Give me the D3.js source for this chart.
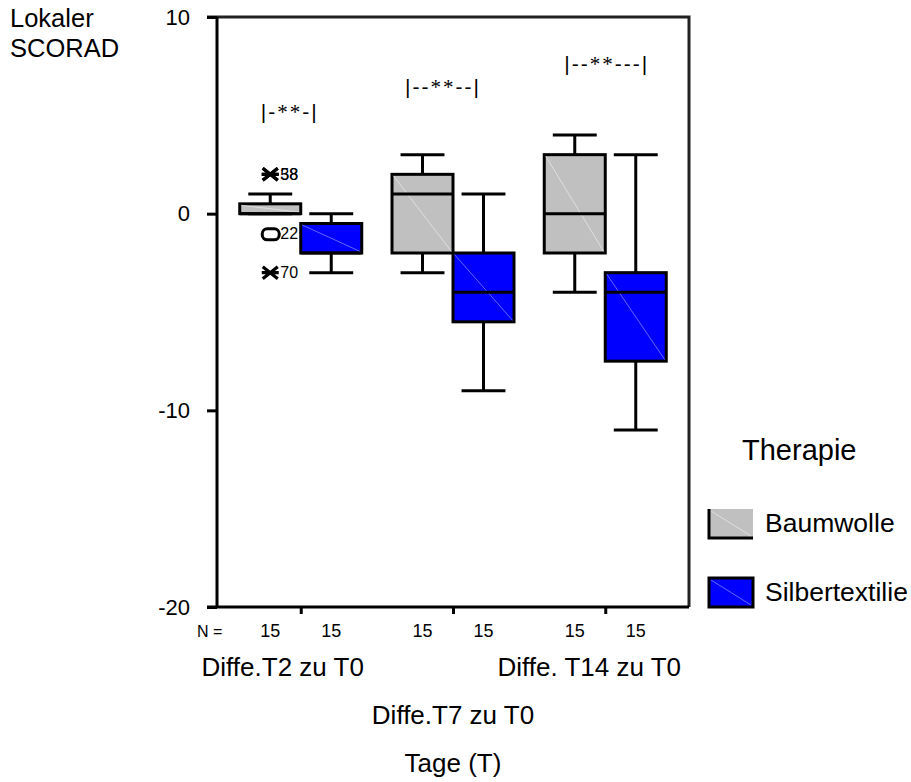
<!DOCTYPE html>
<html>
<head>
    <meta charset="utf-8">
    <script src="https://d3js.org/d3.v7.min.js"></script>
    <style>
        body { margin: 0; background: #fff; }
        svg text { font-family: "Liberation Sans", Arial, sans-serif; fill: #000; }
    </style>
</head>
<body>
    <svg id="chart" width="911" height="782"></svg>

    <script>
        // Data
        const groups = ["Diffe.T2 zu T0", "Diffe.T7 zu T0", "Diffe. T14 zu T0"];
        const therapies = ["Baumwolle", "Silbertextilie"];
        const therapyColors = ["#c0c0c0", "#0000ff"];

        // box stats per group: [min, q1, median, q3, max]
        const baumwolleStats = [[0, 0, 0, 0.5, 1], [-3, -2, 1, 2, 3], [-4, -2, 0, 3, 4]];
        const silberStats = [[-3, -2, -2, -0.5, 0], [-9, -5.5, -4, -2, 1], [-11, -7.5, -4, -3, 3]];
        const nBaumwolle = [15, 15, 15];
        const nSilber = [15, 15, 15];

        // outliers: group index, therapy index, value, case label, kind
        const outliers = [
            [0, 0, 2, "38", "extreme"],
            [0, 0, 2, "58", "extreme"],
            [0, 0, -1, "22", "outlier"],
            [0, 0, -3, "70", "extreme"]
        ];

        const sigLabels = ["|-**-|", "|--**--|", "|--**---|"];
        const sigLevels = [4.6, 5.9, 7.05];
        const yTicks = [10, 0, -10, -20];

        // layout
        const svg = d3.select("#chart");
        const plotLeft = 217, plotRight = 689, plotTop = 17, plotBottom = 607;
        const boxW = 61;
        const sigOffsets = [-40, -48, -41];
        const groupLabelShift = [-18, 0, -16];
        const groupLabelY = [676, 724, 676];

        const y = d3.scaleLinear().domain([-20, 10]).range([plotBottom, plotTop]);
        const x = d3.scalePoint().domain(groups).range([plotLeft, plotRight]).padding(0.55);
        const sub = d3.scaleBand().domain(therapies).range([-boxW, boxW]);

        // frame top and right
        svg.append("path")
            .attr("d", `M${plotLeft - 10},${plotTop} H${plotRight} V${plotBottom}`)
            .attr("fill", "none")
            .attr("stroke", "#222")
            .attr("stroke-width", 3);

        // y axis
        const yAxis = svg.append("g")
            .attr("transform", `translate(${plotLeft},0)`)
            .call(d3.axisLeft(y).tickValues(yTicks).tickSize(10).tickPadding(17).tickFormat(d => String(d)));
        yAxis.select(".domain").attr("stroke", "#000").attr("stroke-width", 3).attr("d", `M0,${plotTop}V${plotBottom}`);
        yAxis.selectAll(".tick line").attr("stroke", "#000").attr("stroke-width", 3);
        yAxis.selectAll(".tick text").style("font-size", "22px").attr("font-family", null);

        // x axis
        const xAxis = svg.append("g")
            .attr("transform", `translate(0,${plotBottom})`)
            .call(d3.axisBottom(x).tickSize(7).tickFormat(""));
        xAxis.select(".domain").attr("stroke", "#000").attr("stroke-width", 3).attr("d", `M${plotLeft - 10},0H${plotRight}`);
        xAxis.selectAll(".tick line").attr("stroke", "#000").attr("stroke-width", 3);

        // boxes
        const statsByTherapy = [baumwolleStats, silberStats];
        const boxes = [];
        groups.forEach((g, gi) => {
            therapies.forEach((t, ti) => {
                const s = statsByTherapy[ti][gi];
                boxes.push({ g, t, ti, min: s[0], q1: s[1], med: s[2], q3: s[3], max: s[4] });
            });
        });

        const boxG = svg.append("g").selectAll("g")
            .data(boxes)
            .join("g")
            .attr("transform", d => `translate(${x(d.g) + sub(d.t)},0)`);

        const bw = sub.bandwidth();
        const capW = bw * 0.72;

        // whiskers
        boxG.append("line")
            .attr("x1", bw / 2).attr("x2", bw / 2)
            .attr("y1", d => y(d.max)).attr("y2", d => y(d.q3))
            .attr("stroke", "#000").attr("stroke-width", 3);
        boxG.append("line")
            .attr("x1", bw / 2).attr("x2", bw / 2)
            .attr("y1", d => y(d.q1)).attr("y2", d => y(d.min))
            .attr("stroke", "#000").attr("stroke-width", 3);
        boxG.append("line")
            .attr("x1", bw / 2 - capW / 2).attr("x2", bw / 2 + capW / 2)
            .attr("y1", d => y(d.max)).attr("y2", d => y(d.max))
            .attr("stroke", "#000").attr("stroke-width", 3);
        boxG.append("line")
            .attr("x1", bw / 2 - capW / 2).attr("x2", bw / 2 + capW / 2)
            .attr("y1", d => y(d.min)).attr("y2", d => y(d.min))
            .attr("stroke", "#000").attr("stroke-width", 3);

        boxG.append("rect")
            .attr("x", 0).attr("width", bw)
            .attr("y", d => y(d.q3))
            .attr("height", d => y(d.q1) - y(d.q3))
            .attr("fill", d => therapyColors[d.ti])
            .attr("stroke", "#000").attr("stroke-width", 3);
        // faint diagonal of the fill pattern
        boxG.append("line")
            .attr("x1", 1.5).attr("x2", bw - 1.5)
            .attr("y1", d => y(d.q3) + 1.5).attr("y2", d => y(d.q1) - 1.5)
            .attr("stroke", d => d.ti === 0 ? "#e6e6e6" : "#7f7fff")
            .attr("stroke-width", 0.8);
        boxG.append("line")
            .attr("x1", 0).attr("x2", bw)
            .attr("y1", d => y(d.med)).attr("y2", d => y(d.med))
            .attr("stroke", "#000").attr("stroke-width", 3);

        // outliers
        const outG = svg.append("g").selectAll("g")
            .data(outliers)
            .join("g")
            .attr("transform", d => `translate(${x(groups[d[0]]) + sub(therapies[d[1]]) + bw / 2},${y(d[2])})`);
        outG.filter(d => d[4] === "extreme").append("path")
            .attr("d", "M-7.5,-6L7.5,6M-7.5,6L7.5,-6M-8.5,0H8.5")
            .attr("stroke", "#000").attr("stroke-width", 3.2).attr("fill", "none");
        outG.filter(d => d[4] === "outlier").append("rect")
            .attr("x", -8).attr("y", -4.5).attr("width", 17).attr("height", 11).attr("rx", 5)
            .attr("fill", "#fff").attr("stroke", "#000").attr("stroke-width", 3);
        outG.append("text")
            .attr("x", 10).attr("dy", "0.36em")
            .style("font-size", "16px")
            .text(d => d[3]);

        // N labels
        svg.append("text").attr("x", 197).attr("y", 637).style("font-size", "16px").text("N =");
        const nLabels = [];
        groups.forEach((g, gi) => {
            nLabels.push({ g, t: therapies[0], n: nBaumwolle[gi] });
            nLabels.push({ g, t: therapies[1], n: nSilber[gi] });
        });
        svg.append("g").selectAll("text")
            .data(nLabels)
            .join("text")
            .attr("x", d => x(d.g) + sub(d.t) + bw / 2)
            .attr("y", 637)
            .attr("text-anchor", "middle")
            .style("font-size", "18px")
            .text(d => d.n);

        // group labels
        svg.append("g").selectAll("text")
            .data(groups)
            .join("text")
            .attr("x", (d, i) => x(d) + groupLabelShift[i])
            .attr("y", (d, i) => groupLabelY[i])
            .attr("text-anchor", "middle")
            .style("font-size", "26px")
            .text(d => d);

        // significance markers
        const sig = svg.append("g").selectAll("text")
            .data(sigLabels)
            .join("text")
            .attr("x", (d, i) => x(groups[i]) + sigOffsets[i])
            .attr("y", (d, i) => y(sigLevels[i]) - 4)
            .style("font-size", "21px")
            .style("letter-spacing", "2px");
        sig.each(function(d) {
            const parts = d.split("**");
            const t = d3.select(this);
            t.append("tspan").text(parts[0]);
            t.append("tspan").style("font-family", "'Liberation Serif', serif").style("font-size", "21px").text("**");
            t.append("tspan").text(parts[1]);
        });

        // axis titles
        svg.append("text").attr("x", 10).attr("y", 27).style("font-size", "25.5px").text("Lokaler");
        svg.append("text").attr("x", 10).attr("y", 57).style("font-size", "25.5px").text("SCORAD");
        svg.append("text").attr("x", x(groups[1])).attr("y", 772)
            .attr("text-anchor", "middle").style("font-size", "26px").text("Tage (T)");

        // legend
        svg.append("text").attr("x", 742).attr("y", 460).style("font-size", "29px").text("Therapie");
        const legend = svg.append("g").selectAll("g")
            .data(therapies)
            .join("g")
            .attr("transform", (d, i) => `translate(709,${509 + i * 69})`);
        legend.append("rect")
            .attr("width", 44).attr("height", 29)
            .attr("fill", (d, i) => therapyColors[i])
            .attr("stroke", (d, i) => i === 0 ? "none" : "#000")
            .attr("stroke-width", 3);
        legend.filter((d, i) => i === 0).append("path")
            .attr("d", "M0,0V29H44")
            .attr("fill", "none").attr("stroke", "#000").attr("stroke-width", 3);
        legend.append("line")
            .attr("x1", 2).attr("y1", 2).attr("x2", 42).attr("y2", 27)
            .attr("stroke", (d, i) => i === 0 ? "#e6e6e6" : "#7f7fff").attr("stroke-width", 0.8);
        legend.append("text")
            .attr("x", 56).attr("y", 23)
            .style("font-size", "26.5px")
            .text(d => d);
    </script>
</body>
</html>
